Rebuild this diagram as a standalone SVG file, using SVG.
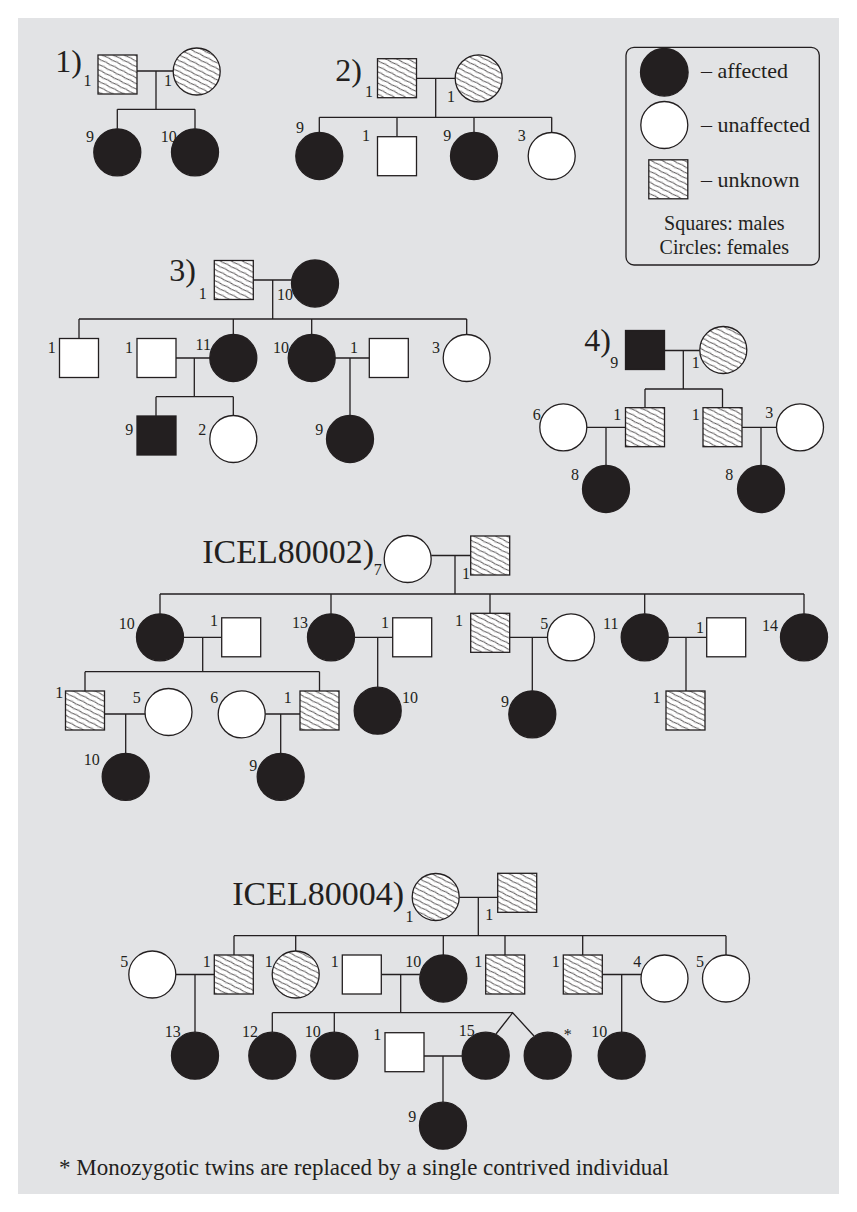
<svg xmlns="http://www.w3.org/2000/svg" width="857" height="1212" viewBox="0 0 857 1212">
<defs>
<pattern id="hatch" patternUnits="userSpaceOnUse" width="10" height="5" patternTransform="rotate(27)">
<rect width="10" height="5" fill="#fff"/>
<path d="M0,2.5 Q2.5,1.8 5,2.5 T10,2.5" fill="none" stroke="#231f20" stroke-width="0.75"/>
</pattern>
<style>
.ln{stroke:#231f20;stroke-width:1.3;fill:none}
.aff{fill:#231f20;stroke:#231f20;stroke-width:1.3}
.una{fill:#fff;stroke:#231f20;stroke-width:1.3}
.unk{fill:url(#hatch);stroke:#231f20;stroke-width:1.3}
text{font-family:"Liberation Serif","Times New Roman",serif;fill:#231f20}
.num{font-size:16px;text-anchor:middle}
.ttl{font-size:32px;text-anchor:end}
.big{font-size:34px;text-anchor:end}
.leg{font-size:22px}
.leg2{font-size:20px;text-anchor:middle}
.note{font-size:23px}
</style>
</defs>
<rect x="0" y="0" width="857" height="1212" fill="#fff"/>
<rect x="18" y="18" width="821" height="1176" fill="#e2e3e5"/>

<g id="connectors" class="ln">
<path d="M137,71 H173.2 M156,71 V109.3 M117.3,109.3 H195 M117.3,109.3 V128.8 M195,109.3 V128.8"/>
<path d="M416.7,78.3 H455.2 M435.7,78.3 V117.3 M319.3,117.3 H551.7 M319.3,117.3 V132.5 M397,117.3 V136.7 M474,117.3 V132.5 M551.7,117.3 V132.5"/>
<path d="M253.3,280 H291.5 M272.7,280 V319 M79,319 H466.7 M79,319 V338.5 M233.3,319 V334.5 M311.7,319 V334.5 M466.7,319 V334.5 M176,358 H209.8 M194.3,358 V396.7 M156,396.7 H233.3 M156,396.7 V416 M233.3,396.7 V415.5 M335.2,358 H369.3 M350,358 V415.5"/>
<path d="M664.5,350.5 H699.8 M683.3,350.5 V389 M645,389 H722.5 M645,389 V407.7 M722.5,389 V407.7 M586.8,427.3 H625.5 M606,427.3 V465.5 M742,427.3 H776.5 M761,427.3 V465.5"/>
<path d="M431.2,555.5 H470.7 M455,555.5 V594 M160,594 H804 M160,594 V613.8 M331,594 V613.8 M490,594 V613.3 M644.7,594 V613.8 M804,594 V613.8 M183.5,637.3 H221.7 M202.7,637.3 V671.7 M85,671.7 H319.5 M85,671.7 V691 M319.5,671.7 V691 M354.5,637.3 H392.7 M377.7,637.3 V687.2 M509.7,637.3 H547.5 M532.3,637.3 V690.8 M668.2,637.3 H706.7 M686,637.3 V691 M104.5,714 H145 M125.7,714 V753.3 M265.2,714 H300 M280.7,714 V753.3"/>
<path d="M459.2,897.3 H497.7 M478.3,897.3 V935.7 M234,935.7 H726 M234,935.7 V955 M295.7,935.7 V951 M443.3,935.7 V955 M505,935.7 V955 M582.7,935.7 V955 M726,935.7 V955 M175.8,974.5 H214.3 M195,974.5 V1032.2 M381.3,974.5 H419.8 M400.7,974.5 V1012.7 M272.3,1012.7 H512.7 M272.3,1012.7 V1032.2 M334.3,1012.7 V1032.2 M496,1034 L512.7,1012.7 L534,1036 M602.3,974.5 H641 M621.7,974.5 V1032.2 M424,1056 H462.2 M443,1056 V1102.2"/>
</g>

<g id="ped1">
<text class="ttl" x="82" y="72">1)</text>
<rect id="p1-f" class="unk" x="98" y="55" width="39" height="39"/>
<circle id="p1-m" class="unk" cx="196.7" cy="71.5" r="23.5"/>
<circle id="p1-c1" class="aff" cx="117.3" cy="152.3" r="23.5"/>
<circle id="p1-c2" class="aff" cx="195" cy="152.3" r="23.5"/>
<text class="num" x="87.5" y="86">1</text>
<text class="num" x="168" y="86">1</text>
<text class="num" x="90" y="141.7">9</text>
<text class="num" x="168.7" y="141.7">10</text>
</g>

<g id="ped2">
<text class="ttl" x="362" y="81">2)</text>
<rect class="unk" x="377.5" y="58.7" width="39" height="39"/>
<circle class="unk" cx="478.7" cy="78.3" r="23.5"/>
<circle class="aff" cx="319.3" cy="156" r="23.5"/>
<rect class="una" x="377.5" y="136.7" width="39" height="39"/>
<circle class="aff" cx="474" cy="156" r="23.5"/>
<circle class="una" cx="551.7" cy="156" r="23.5"/>
<text class="num" x="369" y="96.7">1</text>
<text class="num" x="451" y="101.7">1</text>
<text class="num" x="300" y="132.7">9</text>
<text class="num" x="366" y="141">1</text>
<text class="num" x="447.3" y="141">9</text>
<text class="num" x="521.7" y="141">3</text>
</g>

<g id="legend">
<rect x="626" y="47.3" width="193.3" height="217.7" rx="8" fill="none" stroke="#231f20" stroke-width="1.3"/>
<circle class="aff" cx="664.3" cy="72.3" r="23.8"/>
<circle class="una" cx="664.3" cy="125" r="23.5"/>
<rect class="unk" x="648.8" y="159.8" width="39" height="39"/>
<text class="leg" x="701" y="78.3">– affected</text>
<text class="leg" x="701" y="131.7">– unaffected</text>
<text class="leg" x="701" y="186.7">– unknown</text>
<text class="leg2" x="724.3" y="230">Squares: males</text>
<text class="leg2" x="724.3" y="254.3">Circles: females</text>
</g>

<g id="ped3">
<text class="ttl" x="196" y="280.5">3)</text>
<rect class="unk" x="214.3" y="260.5" width="39" height="39"/>
<circle class="aff" cx="315" cy="283.5" r="23.5"/>
<rect class="una" x="59.5" y="338.5" width="39" height="39"/>
<rect class="una" x="137" y="338.5" width="39" height="39"/>
<circle class="aff" cx="233.3" cy="358" r="23.5"/>
<circle class="aff" cx="311.7" cy="358" r="23.5"/>
<rect class="una" x="369.3" y="338.5" width="39" height="39"/>
<circle class="una" cx="466.7" cy="358" r="23.5"/>
<rect class="aff" x="137" y="416" width="39" height="39"/>
<circle class="una" cx="233.3" cy="439" r="23.5"/>
<circle class="aff" cx="350" cy="439" r="23.5"/>
<text class="num" x="202.7" y="299.3">1</text>
<text class="num" x="285" y="300">10</text>
<text class="num" x="51.7" y="352.7">1</text>
<text class="num" x="129" y="352.7">1</text>
<text class="num" x="203.3" y="350">11</text>
<text class="num" x="281" y="353.3">10</text>
<text class="num" x="354" y="353.3">1</text>
<text class="num" x="436" y="353.3">3</text>
<text class="num" x="129.3" y="435">9</text>
<text class="num" x="202.3" y="435">2</text>
<text class="num" x="319.3" y="435">9</text>
</g>

<g id="ped4">
<text class="ttl" x="611" y="351">4)</text>
<rect class="aff" x="625.5" y="330.5" width="39" height="39"/>
<circle class="unk" cx="723.3" cy="350" r="23.5"/>
<circle class="una" cx="563.3" cy="427.3" r="23.5"/>
<rect class="unk" x="625.5" y="407.7" width="39" height="39"/>
<rect class="unk" x="703" y="407.7" width="39" height="39"/>
<circle class="una" cx="800" cy="427.3" r="23.5"/>
<circle class="aff" cx="606" cy="489" r="23.5"/>
<circle class="aff" cx="761" cy="489" r="23.5"/>
<text class="num" x="614.3" y="368.3">9</text>
<text class="num" x="695.7" y="368.3">1</text>
<text class="num" x="536.7" y="420">6</text>
<text class="num" x="617.3" y="420">1</text>
<text class="num" x="695.7" y="420">1</text>
<text class="num" x="769.3" y="418.3">3</text>
<text class="num" x="575" y="480">8</text>
<text class="num" x="729.3" y="480">8</text>
</g>

<g id="icel80002">
<text class="big" x="374" y="563">ICEL80002)</text>
<circle class="una" cx="407.7" cy="559" r="23.5"/>
<rect class="unk" x="470.7" y="536" width="39" height="39"/>
<circle class="aff" cx="160" cy="637.3" r="23.5"/>
<rect class="una" x="221.7" y="617.8" width="39" height="39"/>
<circle class="aff" cx="331" cy="637.3" r="23.5"/>
<rect class="una" x="392.7" y="617.8" width="39" height="39"/>
<rect class="unk" x="470.7" y="613.3" width="39" height="39"/>
<circle class="una" cx="571" cy="637.3" r="23.5"/>
<circle class="aff" cx="644.7" cy="637.3" r="23.5"/>
<rect class="una" x="706.7" y="617.8" width="39" height="39"/>
<circle class="aff" cx="804" cy="637.3" r="23.5"/>
<rect class="unk" x="65.5" y="691" width="39" height="39"/>
<circle class="una" cx="168.5" cy="712" r="23.5"/>
<circle class="una" cx="241.7" cy="714.3" r="23.5"/>
<rect class="unk" x="300" y="691" width="39" height="39"/>
<circle class="aff" cx="377.7" cy="710.7" r="23.5"/>
<circle class="aff" cx="532.3" cy="714.3" r="23.5"/>
<rect class="unk" x="666" y="691" width="39" height="39"/>
<circle class="aff" cx="125.7" cy="776.8" r="23.5"/>
<circle class="aff" cx="280.7" cy="776.8" r="23.5"/>
<text class="num" x="377.7" y="575">7</text>
<text class="num" x="466" y="579">1</text>
<text class="num" x="126.7" y="629">10</text>
<text class="num" x="214" y="626">1</text>
<text class="num" x="300" y="628.3">13</text>
<text class="num" x="385" y="628.3">1</text>
<text class="num" x="459" y="626">1</text>
<text class="num" x="544.3" y="629.3">5</text>
<text class="num" x="610.7" y="629.3">11</text>
<text class="num" x="700" y="633.3">1</text>
<text class="num" x="770" y="631">14</text>
<text class="num" x="59.3" y="698.3">1</text>
<text class="num" x="136.7" y="703.3">5</text>
<text class="num" x="214.3" y="703.3">6</text>
<text class="num" x="287.7" y="702.7">1</text>
<text class="num" x="410" y="702.7">10</text>
<text class="num" x="505" y="706.7">9</text>
<text class="num" x="656.7" y="702.7">1</text>
<text class="num" x="91.7" y="765">10</text>
<text class="num" x="253.3" y="770.7">9</text>
</g>

<g id="icel80004">
<text class="big" x="404" y="905">ICEL80004)</text>
<circle class="unk" cx="435.7" cy="897" r="23.5"/>
<rect class="unk" x="497.7" y="873.3" width="39" height="39"/>
<circle class="una" cx="152.3" cy="974.5" r="23.5"/>
<rect class="unk" x="214.3" y="955" width="39" height="39"/>
<circle class="unk" cx="295.7" cy="974.5" r="23.5"/>
<rect class="una" x="342.3" y="955" width="39" height="39"/>
<circle class="aff" cx="443.3" cy="978.5" r="23.5"/>
<rect class="unk" x="485.7" y="955" width="39" height="39"/>
<rect class="unk" x="563.3" y="955" width="39" height="39"/>
<circle class="una" cx="664.5" cy="978.5" r="23.5"/>
<circle class="una" cx="726" cy="978.5" r="23.5"/>
<circle class="aff" cx="195" cy="1055.7" r="23.5"/>
<circle class="aff" cx="272.3" cy="1055.7" r="23.5"/>
<circle class="aff" cx="334.3" cy="1055.7" r="23.5"/>
<rect class="una" x="385" y="1032.7" width="39" height="39"/>
<circle class="aff" cx="485.7" cy="1055.7" r="23.5"/>
<circle class="aff" cx="547.7" cy="1055.7" r="23.5"/>
<circle class="aff" cx="621.7" cy="1055.7" r="23.5"/>
<circle class="aff" cx="443" cy="1125.7" r="23.5"/>
<text class="num" x="409.5" y="922">1</text>
<text class="num" x="489.3" y="920">1</text>
<text class="num" x="124.3" y="966.7">5</text>
<text class="num" x="206.7" y="966.7">1</text>
<text class="num" x="268.7" y="966.7">1</text>
<text class="num" x="334.7" y="966.7">1</text>
<text class="num" x="413.3" y="966.7">10</text>
<text class="num" x="478.3" y="966.7">1</text>
<text class="num" x="555.7" y="966.7">1</text>
<text class="num" x="637.3" y="966.7">4</text>
<text class="num" x="700" y="966.7">5</text>
<text class="num" x="172.7" y="1036.7">13</text>
<text class="num" x="250" y="1036.7">12</text>
<text class="num" x="312.7" y="1036.7">10</text>
<text class="num" x="377.3" y="1040">1</text>
<text class="num" x="466.7" y="1035.7">15</text>
<text class="num" x="567.7" y="1040">*</text>
<text class="num" x="599.3" y="1036.7">10</text>
<text class="num" x="412.3" y="1121.7">9</text>
</g>

<text class="note" x="59" y="1175">* Monozygotic twins are replaced by a single contrived individual</text>
</svg>
